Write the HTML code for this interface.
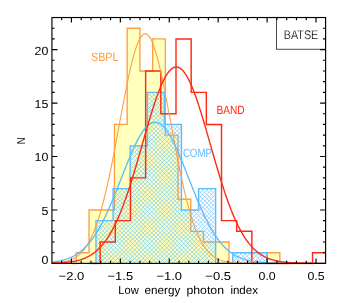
<!DOCTYPE html>
<html><head><meta charset="utf-8"><title>BATSE</title>
<style>
html,body{margin:0;padding:0;background:#fff;}
body{width:346px;height:303px;overflow:hidden;font-family:"Liberation Sans",sans-serif;}
svg{display:block;will-change:transform;}
text{text-rendering:geometricPrecision;}
.thin{stroke:#fff;stroke-width:0.2px;paint-order:fill stroke;}
text{font-family:"Liberation Sans",sans-serif;}
</style></head><body>
<svg width="346" height="303" viewBox="0 0 346 303">
<defs>
<filter id="soft" x="-5%" y="-5%" width="110%" height="110%"><feGaussianBlur stdDeviation="0.3"/></filter>
<clipPath id="plot"><rect x="51.95" y="17.53" width="273.65" height="246.87"/></clipPath>
</defs>
<rect width="346" height="303" fill="#fff"/>

<g clip-path="url(#plot)" fill="none" stroke-linejoin="miter">
<path d="M76.30 263.40 L76.30 252.71 L89.02 252.71 L89.02 209.95 L101.74 209.95 L101.74 209.95 L114.46 209.95 L114.46 124.43 L127.18 124.43 L127.18 28.22 L139.90 28.22 L139.90 70.98 L152.62 70.98 L152.62 38.91 L165.34 38.91 L165.34 135.12 L178.06 135.12 L178.06 199.26 L190.78 199.26 L190.78 231.33 L203.50 231.33 L203.50 242.02 L216.22 242.02 L216.22 242.02 L228.94 242.02 L228.94 263.40 L241.66 263.40 L241.66 263.40 L254.38 263.40 L254.38 263.40 L267.10 263.40 L267.10 252.71 L279.82 252.71 L279.82 263.40 Z" fill="#ffffbe" stroke="none"/>
<path d="M69.94 263.45 L76.30 263.45 L76.30 252.71 L89.02 252.71 L89.02 209.95 L101.74 209.95 L101.74 209.95 L114.46 209.95 L114.46 124.43 L127.18 124.43 L127.18 28.22 L139.90 28.22 L139.90 70.98 L152.62 70.98 L152.62 38.91 L165.34 38.91 L165.34 135.12 L178.06 135.12 L178.06 199.26 L190.78 199.26 L190.78 231.33 L203.50 231.33 L203.50 242.02 L216.22 242.02 L216.22 242.02 L228.94 242.02 L228.94 263.40 L241.66 263.40 L241.66 263.40 L254.38 263.40 L254.38 263.40 L267.10 263.40 L267.10 252.71 L279.82 252.71 L279.82 263.45 L286.18 263.45" stroke="#ff9f40" stroke-width="1.35"/>
<clipPath id="bclip"><path d="M95.96 263.40 L95.96 220.64 L113.06 220.64 L113.06 188.57 L130.16 188.57 L130.16 145.81 L147.26 145.81 L147.26 92.36 L164.36 92.36 L164.36 124.43 L181.46 124.43 L181.46 209.95 L198.56 209.95 L198.56 188.57 L215.66 188.57 L215.66 263.40 L232.76 263.40 L232.76 252.71 L249.86 252.71 L249.86 252.71 L266.96 252.71 L266.96 263.40 Z"/></clipPath>
<g clip-path="url(#bclip)"><path filter="url(#soft)" d="M94.96 81.29 L267.96 -91.71 M94.96 85.54 L267.96 -87.46 M94.96 89.79 L267.96 -83.21 M94.96 94.04 L267.96 -78.96 M94.96 98.29 L267.96 -74.71 M94.96 102.54 L267.96 -70.46 M94.96 106.79 L267.96 -66.21 M94.96 111.04 L267.96 -61.96 M94.96 115.29 L267.96 -57.71 M94.96 119.54 L267.96 -53.46 M94.96 123.79 L267.96 -49.21 M94.96 128.04 L267.96 -44.96 M94.96 132.29 L267.96 -40.71 M94.96 136.54 L267.96 -36.46 M94.96 140.79 L267.96 -32.21 M94.96 145.04 L267.96 -27.96 M94.96 149.29 L267.96 -23.71 M94.96 153.54 L267.96 -19.46 M94.96 157.79 L267.96 -15.21 M94.96 162.04 L267.96 -10.96 M94.96 166.29 L267.96 -6.71 M94.96 170.54 L267.96 -2.46 M94.96 174.79 L267.96 1.79 M94.96 179.04 L267.96 6.04 M94.96 183.29 L267.96 10.29 M94.96 187.54 L267.96 14.54 M94.96 191.79 L267.96 18.79 M94.96 196.04 L267.96 23.04 M94.96 200.29 L267.96 27.29 M94.96 204.54 L267.96 31.54 M94.96 208.79 L267.96 35.79 M94.96 213.04 L267.96 40.04 M94.96 217.29 L267.96 44.29 M94.96 221.54 L267.96 48.54 M94.96 225.79 L267.96 52.79 M94.96 230.04 L267.96 57.04 M94.96 234.29 L267.96 61.29 M94.96 238.54 L267.96 65.54 M94.96 242.79 L267.96 69.79 M94.96 247.04 L267.96 74.04 M94.96 251.29 L267.96 78.29 M94.96 255.54 L267.96 82.54 M94.96 259.79 L267.96 86.79 M94.96 264.04 L267.96 91.04 M94.96 268.29 L267.96 95.29 M94.96 272.54 L267.96 99.54 M94.96 276.79 L267.96 103.79 M94.96 281.04 L267.96 108.04 M94.96 285.29 L267.96 112.29 M94.96 289.54 L267.96 116.54 M94.96 293.79 L267.96 120.79 M94.96 298.04 L267.96 125.04 M94.96 302.29 L267.96 129.29 M94.96 306.54 L267.96 133.54 M94.96 310.79 L267.96 137.79 M94.96 315.04 L267.96 142.04 M94.96 319.29 L267.96 146.29 M94.96 323.54 L267.96 150.54 M94.96 327.79 L267.96 154.79 M94.96 332.04 L267.96 159.04 M94.96 336.29 L267.96 163.29 M94.96 340.54 L267.96 167.54 M94.96 344.79 L267.96 171.79 M94.96 349.04 L267.96 176.04 M94.96 353.29 L267.96 180.29 M94.96 357.54 L267.96 184.54 M94.96 361.79 L267.96 188.79 M94.96 366.04 L267.96 193.04 M94.96 370.29 L267.96 197.29 M94.96 374.54 L267.96 201.54 M94.96 378.79 L267.96 205.79 M94.96 383.04 L267.96 210.04 M94.96 387.29 L267.96 214.29 M94.96 391.54 L267.96 218.54 M94.96 395.79 L267.96 222.79 M94.96 400.04 L267.96 227.04 M94.96 404.29 L267.96 231.29 M94.96 408.54 L267.96 235.54 M94.96 412.79 L267.96 239.79 M94.96 417.04 L267.96 244.04 M94.96 421.29 L267.96 248.29 M94.96 425.54 L267.96 252.54 M94.96 429.79 L267.96 256.79 M94.96 434.04 L267.96 261.04 M94.96 265.31 L267.96 438.31 M94.96 261.06 L267.96 434.06 M94.96 256.81 L267.96 429.81 M94.96 252.56 L267.96 425.56 M94.96 248.31 L267.96 421.31 M94.96 244.06 L267.96 417.06 M94.96 239.81 L267.96 412.81 M94.96 235.56 L267.96 408.56 M94.96 231.31 L267.96 404.31 M94.96 227.06 L267.96 400.06 M94.96 222.81 L267.96 395.81 M94.96 218.56 L267.96 391.56 M94.96 214.31 L267.96 387.31 M94.96 210.06 L267.96 383.06 M94.96 205.81 L267.96 378.81 M94.96 201.56 L267.96 374.56 M94.96 197.31 L267.96 370.31 M94.96 193.06 L267.96 366.06 M94.96 188.81 L267.96 361.81 M94.96 184.56 L267.96 357.56 M94.96 180.31 L267.96 353.31 M94.96 176.06 L267.96 349.06 M94.96 171.81 L267.96 344.81 M94.96 167.56 L267.96 340.56 M94.96 163.31 L267.96 336.31 M94.96 159.06 L267.96 332.06 M94.96 154.81 L267.96 327.81 M94.96 150.56 L267.96 323.56 M94.96 146.31 L267.96 319.31 M94.96 142.06 L267.96 315.06 M94.96 137.81 L267.96 310.81 M94.96 133.56 L267.96 306.56 M94.96 129.31 L267.96 302.31 M94.96 125.06 L267.96 298.06 M94.96 120.81 L267.96 293.81 M94.96 116.56 L267.96 289.56 M94.96 112.31 L267.96 285.31 M94.96 108.06 L267.96 281.06 M94.96 103.81 L267.96 276.81 M94.96 99.56 L267.96 272.56 M94.96 95.31 L267.96 268.31 M94.96 91.06 L267.96 264.06 M94.96 86.81 L267.96 259.81 M94.96 82.56 L267.96 255.56 M94.96 78.31 L267.96 251.31 M94.96 74.06 L267.96 247.06 M94.96 69.81 L267.96 242.81 M94.96 65.56 L267.96 238.56 M94.96 61.31 L267.96 234.31 M94.96 57.06 L267.96 230.06 M94.96 52.81 L267.96 225.81 M94.96 48.56 L267.96 221.56 M94.96 44.31 L267.96 217.31 M94.96 40.06 L267.96 213.06 M94.96 35.81 L267.96 208.81 M94.96 31.56 L267.96 204.56 M94.96 27.31 L267.96 200.31 M94.96 23.06 L267.96 196.06 M94.96 18.81 L267.96 191.81 M94.96 14.56 L267.96 187.56 M94.96 10.31 L267.96 183.31 M94.96 6.06 L267.96 179.06 M94.96 1.81 L267.96 174.81 M94.96 -2.44 L267.96 170.56 M94.96 -6.69 L267.96 166.31 M94.96 -10.94 L267.96 162.06 M94.96 -15.19 L267.96 157.81 M94.96 -19.44 L267.96 153.56 M94.96 -23.69 L267.96 149.31 M94.96 -27.94 L267.96 145.06 M94.96 -32.19 L267.96 140.81 M94.96 -36.44 L267.96 136.56 M94.96 -40.69 L267.96 132.31 M94.96 -44.94 L267.96 128.06 M94.96 -49.19 L267.96 123.81 M94.96 -53.44 L267.96 119.56 M94.96 -57.69 L267.96 115.31 M94.96 -61.94 L267.96 111.06 M94.96 -66.19 L267.96 106.81 M94.96 -70.44 L267.96 102.56 M94.96 -74.69 L267.96 98.31 M94.96 -78.94 L267.96 94.06 M94.96 -83.19 L267.96 89.81 M94.96 -87.44 L267.96 85.56" stroke="#5bbcff" stroke-width="0.55" fill="none"/></g>
<path d="M87.41 263.45 L95.96 263.45 L95.96 220.64 L113.06 220.64 L113.06 188.57 L130.16 188.57 L130.16 145.81 L147.26 145.81 L147.26 92.36 L164.36 92.36 L164.36 124.43 L181.46 124.43 L181.46 209.95 L198.56 209.95 L198.56 188.57 L215.66 188.57 L215.66 263.40 L232.76 263.40 L232.76 252.71 L249.86 252.71 L249.86 252.71 L266.96 252.71 L266.96 263.45 L275.51 263.45" stroke="#5bbcff" stroke-width="1.35"/>
<path d="M92.54 263.45 L100.13 263.45 L100.13 242.02 L115.30 242.02 L115.30 220.64 L130.48 220.64 L130.48 177.88 L145.65 177.88 L145.65 70.98 L160.82 70.98 L160.82 113.74 L176.00 113.74 L176.00 38.91 L191.17 38.91 L191.17 92.36 L206.34 92.36 L206.34 124.43 L221.51 124.43 L221.51 220.64 L236.69 220.64 L236.69 231.33 L251.86 231.33 L251.86 263.40 L267.03 263.40 L267.03 263.40 L282.21 263.40 L282.21 263.40 L297.38 263.40 L297.38 263.40 L312.55 263.40 L312.55 252.71 L327.73 252.71 L327.73 263.45 L335.31 263.45" stroke="#ff2a12" stroke-width="1.45"/>
<path d="M51.95 263.07 L52.95 263.02 L53.95 262.96 L54.95 262.89 L55.95 262.82 L56.95 262.74 L57.95 262.65 L58.95 262.54 L59.95 262.42 L60.95 262.29 L61.95 262.14 L62.95 261.97 L63.95 261.79 L64.95 261.58 L65.95 261.35 L66.95 261.09 L67.95 260.80 L68.95 260.49 L69.95 260.14 L70.95 259.75 L71.95 259.32 L72.95 258.85 L73.95 258.33 L74.95 257.76 L75.95 257.14 L76.95 256.46 L77.95 255.71 L78.95 254.90 L79.95 254.02 L80.95 253.06 L81.95 252.03 L82.95 250.90 L83.95 249.69 L84.95 248.38 L85.95 246.96 L86.95 245.45 L87.95 243.82 L88.95 242.08 L89.95 240.22 L90.95 238.23 L91.95 236.11 L92.95 233.86 L93.95 231.47 L94.95 228.94 L95.95 226.27 L96.95 223.45 L97.95 220.48 L98.95 217.35 L99.95 214.08 L100.95 210.65 L101.95 207.06 L102.95 203.33 L103.95 199.44 L104.95 195.40 L105.95 191.22 L106.95 186.89 L107.95 182.42 L108.95 177.83 L109.95 173.11 L110.95 168.27 L111.95 163.32 L112.95 158.27 L113.95 153.14 L114.95 147.92 L115.95 142.64 L116.95 137.31 L117.95 131.95 L118.95 126.56 L119.95 121.16 L120.95 115.77 L121.95 110.41 L122.95 105.09 L123.95 99.83 L124.95 94.65 L125.95 89.57 L126.95 84.60 L127.95 79.77 L128.95 75.09 L129.95 70.58 L130.95 66.26 L131.95 62.15 L132.95 58.26 L133.95 54.60 L134.95 51.20 L135.95 48.07 L136.95 45.22 L137.95 42.67 L138.95 40.42 L139.95 38.48 L140.95 36.87 L141.95 35.59 L142.95 34.65 L143.95 34.05 L144.95 33.79 L145.95 33.88 L146.95 34.31 L147.95 35.08 L148.95 36.19 L149.95 37.64 L150.95 39.41 L151.95 41.50 L152.95 43.91 L153.95 46.61 L154.95 49.60 L155.95 52.87 L156.95 56.40 L157.95 60.17 L158.95 64.18 L159.95 68.40 L160.95 72.82 L161.95 77.41 L162.95 82.17 L163.95 87.07 L164.95 92.10 L165.95 97.23 L166.95 102.45 L167.95 107.74 L168.95 113.09 L169.95 118.46 L170.95 123.86 L171.95 129.25 L172.95 134.63 L173.95 139.98 L174.95 145.29 L175.95 150.54 L176.95 155.71 L177.95 160.81 L178.95 165.81 L179.95 170.70 L180.95 175.48 L181.95 180.14 L182.95 184.67 L183.95 189.07 L184.95 193.33 L185.95 197.44 L186.95 201.40 L187.95 205.21 L188.95 208.87 L189.95 212.38 L190.95 215.73 L191.95 218.93 L192.95 221.98 L193.95 224.88 L194.95 227.62 L195.95 230.23 L196.95 232.68 L197.95 235.00 L198.95 237.19 L199.95 239.24 L200.95 241.16 L201.95 242.96 L202.95 244.65 L203.95 246.22 L204.95 247.68 L205.95 249.04 L206.95 250.31 L207.95 251.47 L208.95 252.56 L209.95 253.55 L210.95 254.47 L211.95 255.32 L212.95 256.09 L213.95 256.81 L214.95 257.46 L215.95 258.05 L216.95 258.60 L217.95 259.09 L218.95 259.54 L219.95 259.95 L220.95 260.32 L221.95 260.65 L222.95 260.95 L223.95 261.22 L224.95 261.47 L225.95 261.69 L226.95 261.88 L227.95 262.06 L228.95 262.22 L229.95 262.36 L230.95 262.48 L231.95 262.59 L232.95 262.69 L233.95 262.78 L234.95 262.86 L235.95 262.93 L236.95 262.99 L237.95 263.04 L238.95 263.09 L239.95 263.13 L240.95 263.17 L241.95 263.20 L242.95 263.22 L243.95 263.25 L244.95 263.27 L245.95 263.29 L246.95 263.30 L247.95 263.32 L248.95 263.33 L249.95 263.34 L250.95 263.35 L251.95 263.36 L252.95 263.36 L253.95 263.37 L254.95 263.37 L255.95 263.38 L256.95 263.38 L257.95 263.38 L258.95 263.39 L259.95 263.39 L260.95 263.39 L261.95 263.39 L262.95 263.39 L263.95 263.39 L264.95 263.40 L265.95 263.40 L266.95 263.40 L267.95 263.40 L268.95 263.40 L269.95 263.40 L270.95 263.40 L271.95 263.40 L272.95 263.40 L273.95 263.40 L274.95 263.40 L275.95 263.40 L276.95 263.40 L277.95 263.40 L278.95 263.40 L279.95 263.40 L280.95 263.40 L281.95 263.40 L282.95 263.40 L283.95 263.40 L284.95 263.40 L285.95 263.40 L286.95 263.40 L287.95 263.40 L288.95 263.40 L289.95 263.40 L290.95 263.40 L291.95 263.40 L292.95 263.40 L293.95 263.40 L294.95 263.40 L295.95 263.40 L296.95 263.40 L297.95 263.40 L298.95 263.40 L299.95 263.40 L300.95 263.40 L301.95 263.40 L302.95 263.40 L303.95 263.40 L304.95 263.40 L305.95 263.40 L306.95 263.40 L307.95 263.40 L308.95 263.40 L309.95 263.40 L310.95 263.40 L311.95 263.40 L312.95 263.40 L313.95 263.40 L314.95 263.40 L315.95 263.40 L316.95 263.40 L317.95 263.40 L318.95 263.40 L319.95 263.40 L320.95 263.40 L321.95 263.40 L322.95 263.40 L323.95 263.40 L324.95 263.40" stroke="#ff9f40" stroke-width="1.1"/>
<path d="M51.95 262.16 L52.95 262.04 L53.95 261.91 L54.95 261.77 L55.95 261.62 L56.95 261.45 L57.95 261.28 L58.95 261.09 L59.95 260.88 L60.95 260.66 L61.95 260.42 L62.95 260.16 L63.95 259.89 L64.95 259.59 L65.95 259.28 L66.95 258.94 L67.95 258.58 L68.95 258.19 L69.95 257.78 L70.95 257.34 L71.95 256.87 L72.95 256.37 L73.95 255.84 L74.95 255.28 L75.95 254.68 L76.95 254.05 L77.95 253.38 L78.95 252.67 L79.95 251.93 L80.95 251.14 L81.95 250.31 L82.95 249.43 L83.95 248.51 L84.95 247.55 L85.95 246.53 L86.95 245.47 L87.95 244.36 L88.95 243.20 L89.95 241.98 L90.95 240.71 L91.95 239.39 L92.95 238.02 L93.95 236.58 L94.95 235.10 L95.95 233.56 L96.95 231.96 L97.95 230.30 L98.95 228.59 L99.95 226.83 L100.95 225.00 L101.95 223.13 L102.95 221.20 L103.95 219.21 L104.95 217.18 L105.95 215.09 L106.95 212.96 L107.95 210.77 L108.95 208.54 L109.95 206.27 L110.95 203.96 L111.95 201.61 L112.95 199.22 L113.95 196.80 L114.95 194.35 L115.95 191.87 L116.95 189.37 L117.95 186.85 L118.95 184.32 L119.95 181.77 L120.95 179.22 L121.95 176.66 L122.95 174.11 L123.95 171.57 L124.95 169.03 L125.95 166.51 L126.95 164.02 L127.95 161.55 L128.95 159.11 L129.95 156.71 L130.95 154.35 L131.95 152.04 L132.95 149.77 L133.95 147.57 L134.95 145.43 L135.95 143.36 L136.95 141.36 L137.95 139.43 L138.95 137.59 L139.95 135.84 L140.95 134.17 L141.95 132.60 L142.95 131.13 L143.95 129.76 L144.95 128.50 L145.95 127.35 L146.95 126.31 L147.95 125.38 L148.95 124.57 L149.95 123.89 L150.95 123.32 L151.95 122.88 L152.95 122.56 L153.95 122.36 L154.95 122.29 L155.95 122.35 L156.95 122.53 L157.95 122.84 L158.95 123.27 L159.95 123.82 L160.95 124.50 L161.95 125.30 L162.95 126.21 L163.95 127.24 L164.95 128.38 L165.95 129.63 L166.95 130.99 L167.95 132.45 L168.95 134.01 L169.95 135.67 L170.95 137.41 L171.95 139.25 L172.95 141.16 L173.95 143.15 L174.95 145.22 L175.95 147.35 L176.95 149.55 L177.95 151.81 L178.95 154.11 L179.95 156.47 L180.95 158.87 L181.95 161.30 L182.95 163.77 L183.95 166.26 L184.95 168.78 L185.95 171.31 L186.95 173.86 L187.95 176.41 L188.95 178.96 L189.95 181.52 L190.95 184.06 L191.95 186.60 L192.95 189.12 L193.95 191.62 L194.95 194.10 L195.95 196.55 L196.95 198.98 L197.95 201.37 L198.95 203.72 L199.95 206.04 L200.95 208.32 L201.95 210.55 L202.95 212.74 L203.95 214.88 L204.95 216.97 L205.95 219.01 L206.95 221.00 L207.95 222.94 L208.95 224.82 L209.95 226.65 L210.95 228.42 L211.95 230.13 L212.95 231.79 L213.95 233.40 L214.95 234.95 L215.95 236.44 L216.95 237.88 L217.95 239.26 L218.95 240.58 L219.95 241.86 L220.95 243.08 L221.95 244.25 L222.95 245.36 L223.95 246.43 L224.95 247.45 L225.95 248.42 L226.95 249.34 L227.95 250.22 L228.95 251.06 L229.95 251.85 L230.95 252.60 L231.95 253.31 L232.95 253.98 L233.95 254.62 L234.95 255.22 L235.95 255.79 L236.95 256.32 L237.95 256.82 L238.95 257.29 L239.95 257.73 L240.95 258.15 L241.95 258.54 L242.95 258.90 L243.95 259.24 L244.95 259.56 L245.95 259.86 L246.95 260.14 L247.95 260.40 L248.95 260.64 L249.95 260.86 L250.95 261.07 L251.95 261.26 L252.95 261.44 L253.95 261.60 L254.95 261.75 L255.95 261.89 L256.95 262.02 L257.95 262.14 L258.95 262.26 L259.95 262.36 L260.95 262.45 L261.95 262.54 L262.95 262.62 L263.95 262.69 L264.95 262.75 L265.95 262.81 L266.95 262.87 L267.95 262.92 L268.95 262.97 L269.95 263.01 L270.95 263.05 L271.95 263.08 L272.95 263.11 L273.95 263.14 L274.95 263.17 L275.95 263.19 L276.95 263.21 L277.95 263.23 L278.95 263.25 L279.95 263.27 L280.95 263.28 L281.95 263.29 L282.95 263.30 L283.95 263.31 L284.95 263.32 L285.95 263.33 L286.95 263.34 L287.95 263.35 L288.95 263.35 L289.95 263.36 L290.95 263.36 L291.95 263.37 L292.95 263.37 L293.95 263.37 L294.95 263.38 L295.95 263.38 L296.95 263.38 L297.95 263.38 L298.95 263.39 L299.95 263.39 L300.95 263.39 L301.95 263.39 L302.95 263.39 L303.95 263.39 L304.95 263.39 L305.95 263.39 L306.95 263.40 L307.95 263.40 L308.95 263.40 L309.95 263.40 L310.95 263.40 L311.95 263.40 L312.95 263.40 L313.95 263.40 L314.95 263.40 L315.95 263.40 L316.95 263.40 L317.95 263.40 L318.95 263.40 L319.95 263.40 L320.95 263.40 L321.95 263.40 L322.95 263.40 L323.95 263.40 L324.95 263.40" stroke="#5bbcff" stroke-width="1.35"/>
<path d="M51.95 263.16 L52.95 263.13 L53.95 263.10 L54.95 263.06 L55.95 263.03 L56.95 262.99 L57.95 262.94 L58.95 262.89 L59.95 262.84 L60.95 262.78 L61.95 262.71 L62.95 262.64 L63.95 262.56 L64.95 262.48 L65.95 262.39 L66.95 262.29 L67.95 262.18 L68.95 262.06 L69.95 261.93 L70.95 261.78 L71.95 261.63 L72.95 261.46 L73.95 261.28 L74.95 261.09 L75.95 260.88 L76.95 260.65 L77.95 260.41 L78.95 260.14 L79.95 259.86 L80.95 259.55 L81.95 259.22 L82.95 258.87 L83.95 258.49 L84.95 258.08 L85.95 257.65 L86.95 257.18 L87.95 256.69 L88.95 256.16 L89.95 255.59 L90.95 254.99 L91.95 254.35 L92.95 253.67 L93.95 252.95 L94.95 252.18 L95.95 251.37 L96.95 250.51 L97.95 249.60 L98.95 248.64 L99.95 247.62 L100.95 246.55 L101.95 245.42 L102.95 244.24 L103.95 242.99 L104.95 241.68 L105.95 240.31 L106.95 238.87 L107.95 237.37 L108.95 235.79 L109.95 234.15 L110.95 232.43 L111.95 230.65 L112.95 228.79 L113.95 226.85 L114.95 224.85 L115.95 222.76 L116.95 220.60 L117.95 218.37 L118.95 216.06 L119.95 213.67 L120.95 211.21 L121.95 208.67 L122.95 206.06 L123.95 203.38 L124.95 200.63 L125.95 197.80 L126.95 194.91 L127.95 191.96 L128.95 188.94 L129.95 185.86 L130.95 182.72 L131.95 179.53 L132.95 176.29 L133.95 173.00 L134.95 169.66 L135.95 166.29 L136.95 162.89 L137.95 159.45 L138.95 155.99 L139.95 152.51 L140.95 149.02 L141.95 145.52 L142.95 142.02 L143.95 138.52 L144.95 135.03 L145.95 131.56 L146.95 128.11 L147.95 124.69 L148.95 121.31 L149.95 117.97 L150.95 114.68 L151.95 111.45 L152.95 108.28 L153.95 105.18 L154.95 102.16 L155.95 99.23 L156.95 96.39 L157.95 93.64 L158.95 91.00 L159.95 88.47 L160.95 86.05 L161.95 83.76 L162.95 81.59 L163.95 79.56 L164.95 77.67 L165.95 75.92 L166.95 74.31 L167.95 72.86 L168.95 71.56 L169.95 70.42 L170.95 69.44 L171.95 68.63 L172.95 67.98 L173.95 67.49 L174.95 67.18 L175.95 67.04 L176.95 67.06 L177.95 67.26 L178.95 67.62 L179.95 68.15 L180.95 68.85 L181.95 69.72 L182.95 70.75 L183.95 71.93 L184.95 73.28 L185.95 74.78 L186.95 76.43 L187.95 78.22 L188.95 80.16 L189.95 82.23 L190.95 84.43 L191.95 86.76 L192.95 89.21 L193.95 91.78 L194.95 94.45 L195.95 97.23 L196.95 100.10 L197.95 103.06 L198.95 106.10 L199.95 109.22 L200.95 112.41 L201.95 115.66 L202.95 118.96 L203.95 122.32 L204.95 125.71 L205.95 129.14 L206.95 132.60 L207.95 136.07 L208.95 139.57 L209.95 143.07 L210.95 146.57 L211.95 150.07 L212.95 153.56 L213.95 157.03 L214.95 160.48 L215.95 163.91 L216.95 167.31 L217.95 170.67 L218.95 173.99 L219.95 177.26 L220.95 180.49 L221.95 183.67 L222.95 186.79 L223.95 189.85 L224.95 192.85 L225.95 195.79 L226.95 198.66 L227.95 201.46 L228.95 204.19 L229.95 206.85 L230.95 209.44 L231.95 211.95 L232.95 214.39 L233.95 216.76 L234.95 219.05 L235.95 221.26 L236.95 223.39 L237.95 225.46 L238.95 227.44 L239.95 229.35 L240.95 231.19 L241.95 232.96 L242.95 234.65 L243.95 236.27 L244.95 237.83 L245.95 239.31 L246.95 240.73 L247.95 242.08 L248.95 243.37 L249.95 244.60 L250.95 245.77 L251.95 246.88 L252.95 247.93 L253.95 248.93 L254.95 249.88 L255.95 250.77 L256.95 251.62 L257.95 252.42 L258.95 253.17 L259.95 253.88 L260.95 254.55 L261.95 255.18 L262.95 255.77 L263.95 256.32 L264.95 256.84 L265.95 257.33 L266.95 257.78 L267.95 258.21 L268.95 258.61 L269.95 258.98 L270.95 259.32 L271.95 259.65 L272.95 259.95 L273.95 260.22 L274.95 260.48 L275.95 260.72 L276.95 260.94 L277.95 261.15 L278.95 261.34 L279.95 261.52 L280.95 261.68 L281.95 261.83 L282.95 261.97 L283.95 262.09 L284.95 262.21 L285.95 262.32 L286.95 262.42 L287.95 262.51 L288.95 262.59 L289.95 262.66 L290.95 262.73 L291.95 262.80 L292.95 262.85 L293.95 262.91 L294.95 262.95 L295.95 263.00 L296.95 263.04 L297.95 263.07 L298.95 263.11 L299.95 263.14 L300.95 263.16 L301.95 263.19 L302.95 263.21 L303.95 263.23 L304.95 263.25 L305.95 263.26 L306.95 263.28 L307.95 263.29 L308.95 263.30 L309.95 263.31 L310.95 263.32 L311.95 263.33 L312.95 263.34 L313.95 263.35 L314.95 263.35 L315.95 263.36 L316.95 263.36 L317.95 263.37 L318.95 263.37 L319.95 263.37 L320.95 263.38 L321.95 263.38 L322.95 263.38 L323.95 263.38 L324.95 263.39" stroke="#ff2a12" stroke-width="1.4"/>
</g>
<rect x="276.6" y="17.53" width="49.00" height="31.67" fill="#fff" stroke="#000" stroke-width="0.7"/>
<text class="thin" x="301" y="39.4" font-size="12.5" text-anchor="middle" textLength="34.5" lengthAdjust="spacingAndGlyphs" fill="#000">BATSE</text>
<rect x="51.95" y="17.53" width="273.65" height="245.87" fill="none" stroke="#000" stroke-width="1.15"/>
<path d="M61.63 263.40 v-2.60 M61.63 17.53 v2.60 M71.42 263.40 v-5.00 M71.42 17.53 v5.00 M81.20 263.40 v-2.60 M81.20 17.53 v2.60 M90.99 263.40 v-2.60 M90.99 17.53 v2.60 M100.77 263.40 v-2.60 M100.77 17.53 v2.60 M110.55 263.40 v-2.60 M110.55 17.53 v2.60 M120.34 263.40 v-5.00 M120.34 17.53 v5.00 M130.12 263.40 v-2.60 M130.12 17.53 v2.60 M139.91 263.40 v-2.60 M139.91 17.53 v2.60 M149.69 263.40 v-2.60 M149.69 17.53 v2.60 M159.47 263.40 v-2.60 M159.47 17.53 v2.60 M169.26 263.40 v-5.00 M169.26 17.53 v5.00 M179.04 263.40 v-2.60 M179.04 17.53 v2.60 M188.83 263.40 v-2.60 M188.83 17.53 v2.60 M198.61 263.40 v-2.60 M198.61 17.53 v2.60 M208.39 263.40 v-2.60 M208.39 17.53 v2.60 M218.18 263.40 v-5.00 M218.18 17.53 v5.00 M227.96 263.40 v-2.60 M227.96 17.53 v2.60 M237.75 263.40 v-2.60 M237.75 17.53 v2.60 M247.53 263.40 v-2.60 M247.53 17.53 v2.60 M257.31 263.40 v-2.60 M257.31 17.53 v2.60 M267.10 263.40 v-5.00 M267.10 17.53 v5.00 M276.88 263.40 v-2.60 M276.88 17.53 v2.60 M286.67 263.40 v-2.60 M286.67 17.53 v2.60 M296.45 263.40 v-2.60 M296.45 17.53 v2.60 M306.23 263.40 v-2.60 M306.23 17.53 v2.60 M316.02 263.40 v-5.00 M316.02 17.53 v5.00 M51.95 252.71 h2.70 M325.60 252.71 h-2.70 M51.95 242.02 h2.70 M325.60 242.02 h-2.70 M51.95 231.33 h2.70 M325.60 231.33 h-2.70 M51.95 220.64 h2.70 M325.60 220.64 h-2.70 M51.95 209.95 h5.50 M325.60 209.95 h-5.50 M51.95 199.26 h2.70 M325.60 199.26 h-2.70 M51.95 188.57 h2.70 M325.60 188.57 h-2.70 M51.95 177.88 h2.70 M325.60 177.88 h-2.70 M51.95 167.19 h2.70 M325.60 167.19 h-2.70 M51.95 156.50 h5.50 M325.60 156.50 h-5.50 M51.95 145.81 h2.70 M325.60 145.81 h-2.70 M51.95 135.12 h2.70 M325.60 135.12 h-2.70 M51.95 124.43 h2.70 M325.60 124.43 h-2.70 M51.95 113.74 h2.70 M325.60 113.74 h-2.70 M51.95 103.05 h5.50 M325.60 103.05 h-5.50 M51.95 92.36 h2.70 M325.60 92.36 h-2.70 M51.95 81.67 h2.70 M325.60 81.67 h-2.70 M51.95 70.98 h2.70 M325.60 70.98 h-2.70 M51.95 60.29 h2.70 M325.60 60.29 h-2.70 M51.95 49.60 h5.50 M325.60 49.60 h-5.50 M51.95 38.91 h2.70 M325.60 38.91 h-2.70 M51.95 28.22 h2.70 M325.60 28.22 h-2.70" stroke="#000" stroke-width="1.15" fill="none"/>
<text x="71.42" y="280.3" font-size="11.5" text-anchor="middle" textLength="25.6" lengthAdjust="spacingAndGlyphs" fill="#000">−2.0</text>
<text x="120.34" y="280.3" font-size="11.5" text-anchor="middle" textLength="25.6" lengthAdjust="spacingAndGlyphs" fill="#000">−1.5</text>
<text x="169.26" y="280.3" font-size="11.5" text-anchor="middle" textLength="25.6" lengthAdjust="spacingAndGlyphs" fill="#000">−1.0</text>
<text x="218.18" y="280.3" font-size="11.5" text-anchor="middle" textLength="25.6" lengthAdjust="spacingAndGlyphs" fill="#000">−0.5</text>
<text x="267.10" y="280.3" font-size="11.5" text-anchor="middle" textLength="17.2" lengthAdjust="spacingAndGlyphs" fill="#000">0.0</text>
<text x="316.02" y="280.3" font-size="11.5" text-anchor="middle" textLength="17.2" lengthAdjust="spacingAndGlyphs" fill="#000">0.5</text>
<text x="48.3" y="214.85" font-size="11.8" text-anchor="end" textLength="6.9" lengthAdjust="spacingAndGlyphs" fill="#000">5</text>
<text x="48.3" y="161.40" font-size="11.8" text-anchor="end" textLength="13.8" lengthAdjust="spacingAndGlyphs" fill="#000">10</text>
<text x="48.3" y="107.95" font-size="11.8" text-anchor="end" textLength="13.8" lengthAdjust="spacingAndGlyphs" fill="#000">15</text>
<text x="48.3" y="54.50" font-size="11.8" text-anchor="end" textLength="13.8" lengthAdjust="spacingAndGlyphs" fill="#000">20</text>
<text x="48.3" y="263.7" font-size="11.8" text-anchor="end" textLength="6.9" lengthAdjust="spacingAndGlyphs" fill="#000">0</text>
<text x="118.30" y="293.8" font-size="11.5" textLength="20.40" lengthAdjust="spacingAndGlyphs" fill="#000">Low</text>
<text x="144.50" y="293.8" font-size="11.5" textLength="35.80" lengthAdjust="spacingAndGlyphs" fill="#000">energy</text>
<text x="186.40" y="293.8" font-size="11.5" textLength="37.60" lengthAdjust="spacingAndGlyphs" fill="#000">photon</text>
<text x="230.40" y="293.8" font-size="11.5" textLength="27.60" lengthAdjust="spacingAndGlyphs" fill="#000">index</text>
<text transform="translate(24.7,140.8) rotate(-90)" font-size="11.5" text-anchor="middle" textLength="6.8" lengthAdjust="spacingAndGlyphs" fill="#000">N</text>
<text x="91" y="60.6" font-size="12" textLength="27.5" lengthAdjust="spacingAndGlyphs" fill="#ff9f40">SBPL</text>
<text x="216.5" y="113.8" font-size="12" textLength="28.2" lengthAdjust="spacingAndGlyphs" fill="#ff2a12">BAND</text>
<text x="182.9" y="157" font-size="12" textLength="29.0" lengthAdjust="spacingAndGlyphs" fill="#5bbcff">COMP</text>
</svg></body></html>
